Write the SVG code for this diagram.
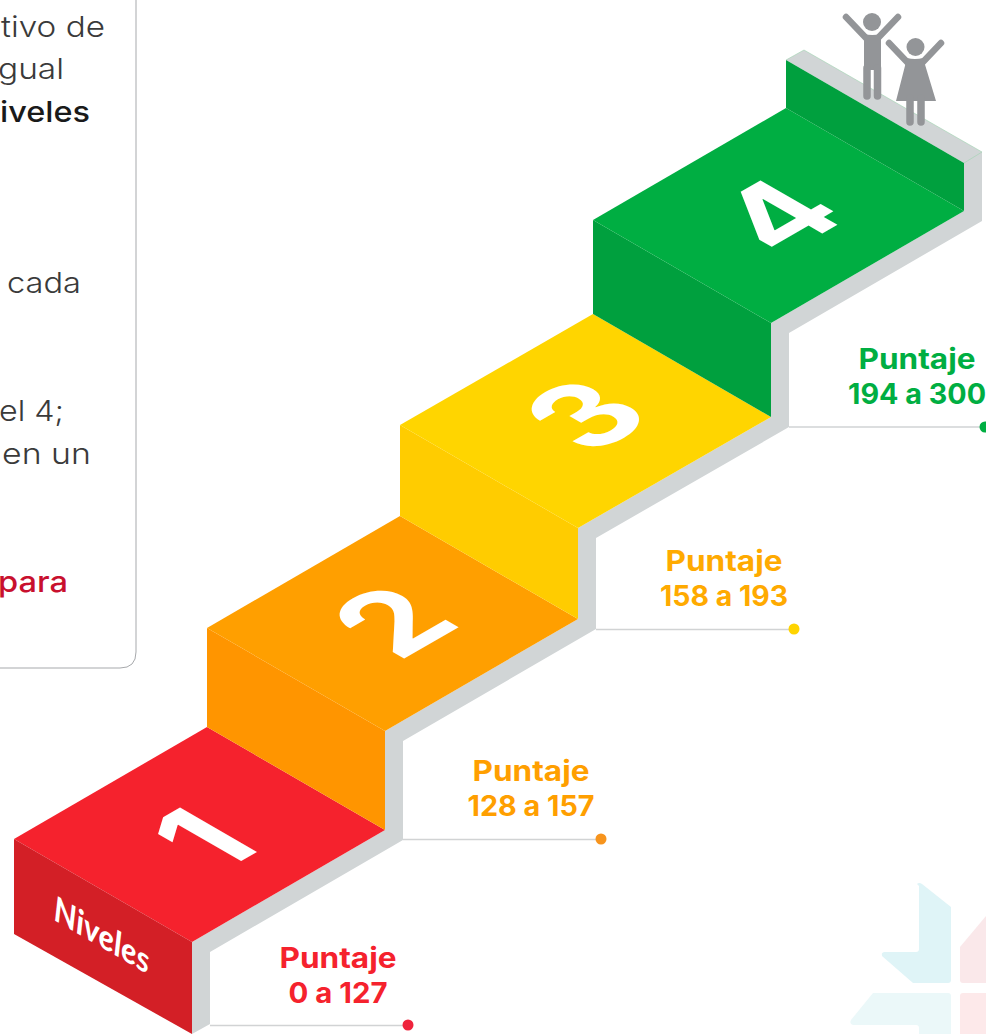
<svg xmlns="http://www.w3.org/2000/svg" width="986" height="1034" viewBox="0 0 986 1034">
<style>
.grey{fill:#d1d5d6}
.lbl{font-family:"Inter","Liberation Sans",sans-serif;font-weight:700;font-size:28px;text-anchor:middle}
.body{font-family:"Inter","Liberation Sans",sans-serif;font-size:29px;text-anchor:end;fill:#3a3a3a;font-weight:300}
.num{font-family:"Inter","Liberation Sans",sans-serif;font-weight:700;font-size:122px;text-anchor:middle;fill:#fff}
.lead{stroke:#d1d3d4;stroke-width:1.5;fill:none}
.fig{fill:#939598}
.limb{stroke:#939598;stroke-width:6.5;stroke-linecap:round;fill:none}
</style>
<rect width="986" height="1034" fill="#fff"/>
<g id="watermark">
<path d="M917 884Q919 882 922 884L951 907V980Q951 983 948 983H913L882 956Q881 952 885 952H916Q919 952 919 949V886Z" fill="#dff4f7"/>
<path d="M960 947L986 916V983H963Q960 983 960 980Z" fill="#fae8ea"/>
<path d="M873 993H948Q951 993 951 996V1034H919V1028Q919 1025 916 1025H853Q849 1024 851 1020Z" fill="#ebf8f9"/>
<path d="M963 993H986V1034H960V996Q960 993 963 993Z" fill="#fde9ea"/>
</g>
<g id="panel">
<path d="M136 0V652Q136 668 120 668H0" fill="none" stroke="#a7a9ac" stroke-width="1"/>
<text class="body" x="105" y="37" textLength="104" lengthAdjust="spacingAndGlyphs">tivo de</text>
<text class="body" x="64" y="79" textLength="66" lengthAdjust="spacingAndGlyphs">gual</text>
<text class="body" x="90" y="122" textLength="90" lengthAdjust="spacingAndGlyphs" style="font-weight:500;fill:#1a1a1a">iveles</text>
<text class="body" x="81" y="293" textLength="74" lengthAdjust="spacingAndGlyphs">cada</text>
<text class="body" x="64" y="421" textLength="65" lengthAdjust="spacingAndGlyphs">el 4;</text>
<text class="body" x="91" y="464" textLength="89" lengthAdjust="spacingAndGlyphs">en un</text>
<text class="body" x="68" y="592" textLength="70" lengthAdjust="spacingAndGlyphs" style="font-weight:500;fill:#c8102e">para</text>
</g>
<g id="connectors">
<path class="lead" d="M210 1025.500H408"/>
<path class="lead" d="M403 839.500H601"/>
<path class="lead" d="M596 629.500H794"/>
<path class="lead" d="M789 427H986"/>
<circle cx="408" cy="1025" r="5.500" fill="#ef233c"/>
<circle cx="601" cy="839" r="5.500" fill="#f7941d"/>
<circle cx="794" cy="629" r="5.500" fill="#ffd400"/>
<circle cx="985" cy="427" r="5.500" fill="#00ae42"/>
</g>
<g id="rail">
<path class="grey" d="M786 60L804 50L982 152V221L789 333V427L596 538V629L403 741V840L210 952V1024L192 1034V942L385 830V731L578 619V528L771 417V323L964 211V163Z"/>
</g>
<g id="step-1">
<path d="M14 839L207 727L385 830L192 942Z" fill="#f5222d"/>
<path d="M14 839L192 942V1034L14 934Z" fill="#d31f26"/>
<text class="num" transform="matrix(.866 -.5 .866 .5 241 861)" x="0" y="0">1</text>
<text transform="matrix(.866 .5 0 1 54 920)" style="font-family:'Lato','Liberation Sans',sans-serif;font-size:36px;font-weight:700;fill:#fff;font-style:italic">Niveles</text>
</g>
<g id="step-2">
<path d="M207 628L385 731V830L207 727Z" fill="#ff9500"/>
<path d="M207 628L400 516L578 619L385 731Z" fill="#ff9f00"/>
<text class="num" transform="matrix(.866 -.5 .866 .5 431 643)" x="0" y="0">2</text>
</g>
<g id="step-3">
<path d="M400 425L578 528V619L400 516Z" fill="#ffcc00"/>
<path d="M400 425L593 314L771 417L578 528Z" fill="#ffd500"/>
<text class="num" transform="matrix(.866 -.5 .866 .5 623 437)" x="0" y="0">3</text>
</g>
<g id="step-4">
<path d="M593 220L771 323V417L593 314Z" fill="#00a03e"/>
<path d="M593 220L786 108L964 211L771 323Z" fill="#00ae42"/>
<path d="M786 60L964 163V211L786 108Z" fill="#00a03e"/>
<path d="M964 163L982 152M786 60L804 50L982 152" fill="none" stroke="#9fd4b0" stroke-width=".6"/>
<text class="num" transform="matrix(.866 -.5 .866 .5 816 237)" x="0" y="0">4</text>
</g>
<g id="figures">
<circle class="fig" cx="872" cy="22" r="9"/>
<path class="limb" d="M846 17L866 38M898 17L878 38"/>
<path class="fig" d="M864 34Q872 36 881 34V70H864Z"/>
<path class="limb" style="stroke-width:7.500" d="M867 68V96M877.500 68V96"/>
<circle class="fig" cx="915.500" cy="47" r="9"/>
<path class="limb" d="M889 43L908 63M941 43L922 63"/>
<path class="fig" d="M907 58Q915 60 923 58L936 101H896Z"/>
<path class="limb" style="stroke-width:7.500" d="M910 98V122M921 98V122"/>
</g>
<g id="labels">
<text class="lbl" fill="#f5222d"><tspan x="338" y="968" textLength="117" lengthAdjust="spacingAndGlyphs">Puntaje</tspan></text>
<text class="lbl" fill="#f5222d" x="338" y="1003" textLength="99" lengthAdjust="spacingAndGlyphs">0 a 127</text>
<text class="lbl" fill="#ff9f00" x="531" y="781" textLength="117" lengthAdjust="spacingAndGlyphs">Puntaje</text>
<text class="lbl" fill="#ff9f00" x="531" y="816" textLength="127" lengthAdjust="spacingAndGlyphs">128 a 157</text>
<text class="lbl" fill="#ffaa00" x="724" y="571" textLength="117" lengthAdjust="spacingAndGlyphs">Puntaje</text>
<text class="lbl" fill="#ffaa00" x="724" y="606" textLength="128" lengthAdjust="spacingAndGlyphs">158 a 193</text>
<text class="lbl" fill="#00ae42" x="917" y="369" textLength="117" lengthAdjust="spacingAndGlyphs">Puntaje</text>
<text class="lbl" fill="#00ae42" x="917" y="404" textLength="138" lengthAdjust="spacingAndGlyphs">194 a 300</text>
</g>
</svg>
